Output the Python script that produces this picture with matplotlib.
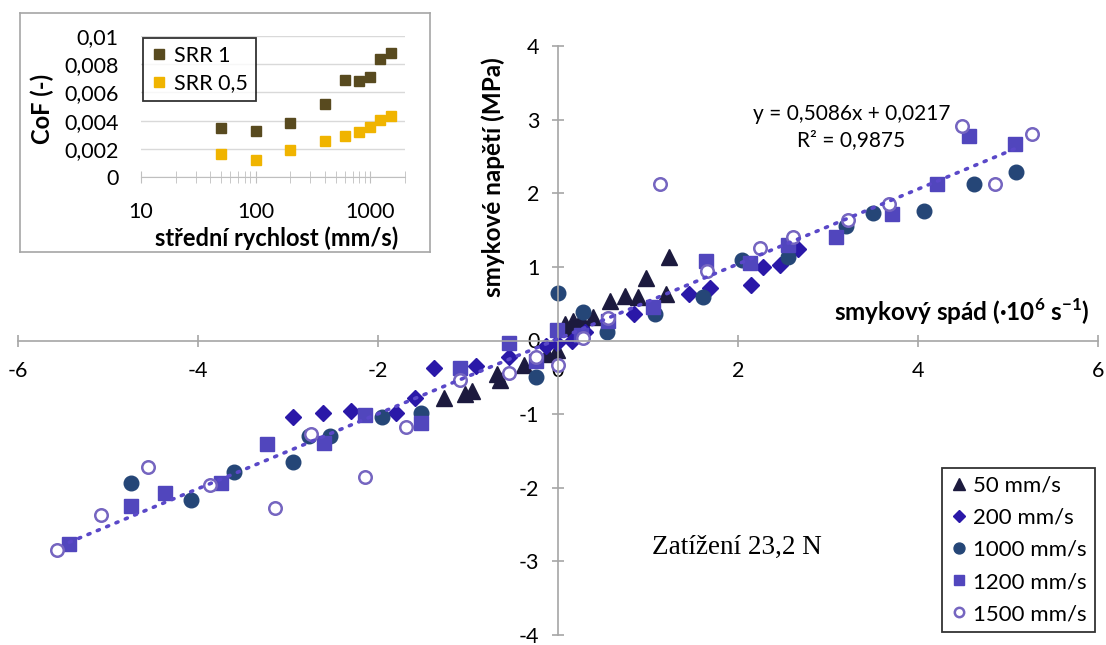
import matplotlib.pyplot as plt

plt.rcParams['font.family'] = ['Lato', 'DejaVu Sans']
plt.rcParams['axes.unicode_minus'] = False
plt.rcParams['mathtext.fontset'] = 'custom'
plt.rcParams['mathtext.rm'] = 'Lato'
plt.rcParams['mathtext.bf'] = 'Lato:bold'

# main chart: shear rate (x) vs shear stress (y)
x_50 = [-1.27, -1.03, -0.96, -0.68, -0.64, -0.38, -0.12, -0.01, 0.08, 0.14, 0.17, 0.26,
        0.39, 0.58, 0.74, 0.89, 0.98, 1.20, 1.23]
y_50 = [-0.78, -0.73, -0.69, -0.45, -0.53, -0.33, -0.19, -0.13, 0.23, 0.17, 0.27, 0.29,
        0.32, 0.54, 0.60, 0.59, 0.85, 0.635, 1.13]

x_200 = [-2.95, -2.615, -2.30, -1.80, -1.59, -1.38, -0.91, -0.55, -0.13, -0.01, 0.15,
         0.30, 0.84, 1.46, 1.69, 2.14, 2.28, 2.47, 2.67]
y_200 = [-1.045, -0.99, -0.96, -0.99, -0.78, -0.37, -0.34, -0.23, -0.07, -0.04, -0.01,
         0.12, 0.365, 0.635, 0.71, 0.76, 1.00, 1.02, 1.24]

x_1000 = [-4.75, -4.08, -3.60, -2.94, -2.77, -2.53, -1.96, -1.52, -0.25, 0.0, 0.28, 0.54,
          1.08, 1.61, 2.04, 2.55, 3.20, 3.50, 4.07, 4.62, 5.09]
y_1000 = [-1.93, -2.17, -1.78, -1.65, -1.30, -1.30, -1.045, -0.98, -0.49, 0.64, 0.39, 0.12,
          0.365, 0.59, 1.10, 1.14, 1.55, 1.73, 1.76, 2.12, 2.29]

x_1200 = [-5.43, -4.74, -4.37, -3.74, -3.23, -2.60, -2.15, -1.52, -1.09, -0.54, -0.25,
          -0.01, 0.26, 0.56, 1.06, 1.64, 2.13, 2.56, 3.09, 3.71, 4.21, 4.57, 5.08]
y_1200 = [-2.77, -2.25, -2.07, -1.94, -1.40, -1.39, -1.01, -1.125, -0.375, -0.04, -0.28,
          0.14, 0.07, 0.26, 0.455, 1.085, 1.05, 1.30, 1.40, 1.72, 2.12, 2.78, 2.67]

x_1500 = [-5.57, -5.08, -4.56, -3.87, -3.15, -2.74, -2.14, -1.69, -1.09, -0.55, -0.25,
          0.0, 0.28, 0.56, 1.13, 1.66, 2.24, 2.61, 3.22, 3.68, 4.49, 4.85, 5.27]
y_1500 = [-2.85, -2.375, -1.72, -1.96, -2.27, -1.27, -1.86, -1.17, -0.53, -0.44, -0.22,
          -0.33, 0.04, 0.30, 2.12, 0.95, 1.25, 1.41, 1.63, 1.85, 2.91, 2.12, 2.81]

# linear trend (fitted to 1200 mm/s series)
slope = 0.5086
intercept = 0.0217

# inset: CoF vs mean speed
speed = [50, 100, 200, 400, 600, 800, 1000, 1200, 1500]
cof_srr1 = [0.00348, 0.00327, 0.00384, 0.00521, 0.00687, 0.00682, 0.00709, 0.00834, 0.00877]
cof_srr05 = [0.00161, 0.00123, 0.00194, 0.00254, 0.00289, 0.00320, 0.00355, 0.00403, 0.00431]

W, H = 1106, 645
fig = plt.figure(figsize=(W / 100, H / 100), dpi=100)

ax = fig.add_axes([18 / W, 10 / H, 1080 / W, 589 / H])
ax.set_xlim(-6, 6)
ax.set_ylim(-4, 4)
for side in ['top', 'right']:
    ax.spines[side].set_visible(False)
for side in ['left', 'bottom']:
    ax.spines[side].set_position(('data', 0))
    ax.spines[side].set_color('#a6a6a6')
    ax.spines[side].set_linewidth(1.2)
ax.set_xticks(range(-6, 7, 2))
ax.set_yticks(range(-4, 5))
ax.tick_params(axis='both', direction='inout', length=9, width=1.2, color='#a6a6a6',
               labelsize=15.5)
ax.tick_params(axis='x', pad=10)
ax.tick_params(axis='y', pad=9)

ms_kw = dict(linestyle='none')
ax.plot(x_50, y_50, marker='^', markersize=11, color='#1c1a3e', label='50 mm/s', **ms_kw)
ax.plot(x_200, y_200, marker='D', markersize=7.8, color='#2a18a8', label='200 mm/s', **ms_kw)
ax.plot(x_1000, y_1000, marker='o', markersize=10.5, color='#254677', label='1000 mm/s', **ms_kw)
ax.plot(x_1200, y_1200, marker='s', markersize=10.5, color='#5146bd', label='1200 mm/s', **ms_kw)
ax.plot(x_1500, y_1500, marker='o', markersize=9, markerfacecolor='white',
        markeredgecolor='#7565c0', markeredgewidth=1.8, label='1500 mm/s', **ms_kw)

tx = [min(x_1200), max(x_1200)]
ty = [slope * v + intercept for v in tx]
ax.plot(tx, ty, linestyle=(0, (0.6, 2.2)), dash_capstyle='round', linewidth=2.6,
        color='#5a48c8', zorder=5)

ax.text(3.26, 3.08, 'y = 0,5086x + 0,0217', ha='center', va='center', fontsize=15)
ax.text(3.26, 2.72, 'R² = 0,9875', ha='center', va='center', fontsize=15)

ax.text(5.91, 0.39, r'smykový spád (·10$^{\mathbf{6}}$ s$^{\mathbf{-1}}$)', ha='right',
        va='center', fontsize=17.5, fontweight='bold')
ax.text(-0.72, 2.22, 'smykové napětí (MPa)', rotation=90, ha='center', va='center',
        fontsize=17.5, fontweight='bold')

ax.text(1.99, -2.81, 'Zatížení 23,2 N', ha='center', va='center', fontsize=19.5,
        family='Liberation Serif')

leg = ax.legend(loc='lower right', bbox_to_anchor=(0.997, 0.005),
                fontsize=16, frameon=True, fancybox=False, edgecolor='black',
                markerscale=0.75, handlelength=0.8, handletextpad=0.25,
                labelspacing=0.55, borderpad=0.35, borderaxespad=0)
leg.get_frame().set_linewidth(1.3)

# inset frame
frame = fig.add_axes([20 / W, 1 - 252 / H, 410 / W, 239 / H], zorder=2)
frame.set_xticks([])
frame.set_yticks([])
for s in frame.spines.values():
    s.set_color('#a6a6a6')
    s.set_linewidth(1.2)

ins = fig.add_axes([141 / W, 1 - 177 / H, 264 / W, 141 / H], zorder=3)
ins.set_facecolor('none')
ins.set_xscale('log')
ins.set_xlim(10, 2000)
ins.set_ylim(0, 0.01)
ins.set_yticks([0, 0.002, 0.004, 0.006, 0.008, 0.01])
ins.set_yticklabels(['0', '0,002', '0,004', '0,006', '0,008', '0,01'])
ins.set_xticks([10, 100, 1000])
ins.set_xticklabels(['10', '100', '1000'])
ins.grid(axis='y', color='#d9d9d9', linewidth=1)
ins.set_axisbelow(True)
for side in ['top', 'right', 'left']:
    ins.spines[side].set_visible(False)
ins.spines['bottom'].set_color('#bfbfbf')
ins.tick_params(axis='y', length=0, labelsize=15.5, pad=16)
ins.tick_params(axis='x', which='both', direction='inout', length=8, color='#bfbfbf',
                labelsize=15.5, pad=14)
ins.tick_params(axis='x', which='minor', labelbottom=False)

ins.plot(speed, cof_srr1, marker='s', markersize=7.5, linestyle='none', color='#584a1f',
         label='SRR 1')
ins.plot(speed, cof_srr05, marker='s', markersize=7.5, linestyle='none', color='#f0b400',
         label='SRR 0,5')
ins.set_xlabel('střední rychlost (mm/s)', fontsize=17, fontweight='bold')
ins.set_ylabel('CoF (-)', fontsize=17, fontweight='bold')
ins.xaxis.set_label_coords(0.515, -0.35)
ins.yaxis.set_label_coords(-0.33, 0.48)

ileg = ins.legend(loc='upper left', bbox_to_anchor=(0.008, 0.986), fontsize=15.5,
                  frameon=True, fancybox=False, edgecolor='black', handlelength=0.8,
                  handletextpad=0.3, labelspacing=0.35, borderpad=0.35, borderaxespad=0)
ileg.get_frame().set_linewidth(1.3)

fig.savefig('out.png', dpi=100)
